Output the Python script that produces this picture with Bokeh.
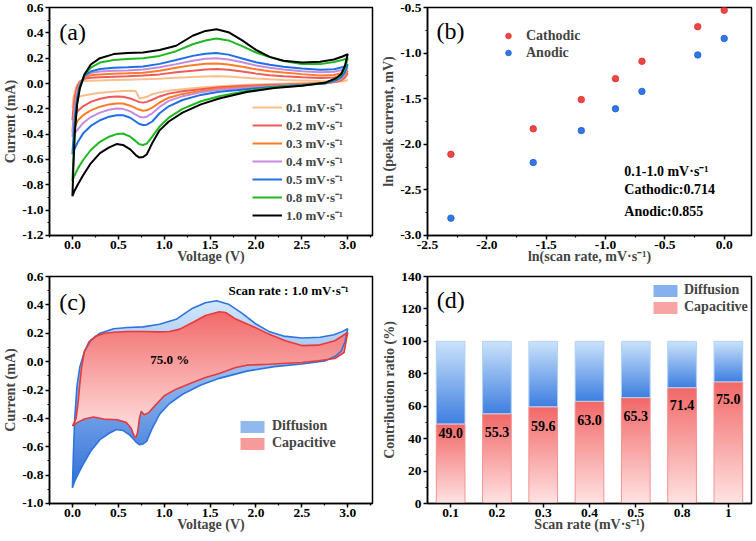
from bokeh.plotting import figure
from bokeh.models import Range1d, FactorRange, SingleIntervalTicker, NumeralTickFormatter, Legend, LegendItem
from bokeh.layouts import gridplot
from bokeh.core.properties import value
from bokeh.embed import file_html
from bokeh.resources import INLINE

FONT = "Liberation Serif"
EPS = 1e-6

# ---------------- (a) CV curves at different scan rates ----------------
SCAN_LABELS = ["0.1 mV·s⁻¹", "0.2 mV·s⁻¹", "0.3 mV·s⁻¹", "0.4 mV·s⁻¹",
               "0.5 mV·s⁻¹", "0.8 mV·s⁻¹", "1.0 mV·s⁻¹"]
SCAN_COLORS = ["#F8BF8C", "#F05A5A", "#FF7B24", "#C58BE0", "#1F6FE5", "#20B820", "#000000"]

V_UP = [0.0, 0.01, 0.025, 0.05, 0.08, 0.13, 0.2, 0.3, 0.45, 0.6, 0.77, 0.95, 1.13,
        1.31, 1.45, 1.57, 1.7, 1.85, 2.0, 2.15, 2.3, 2.5, 2.7, 2.85, 2.95, 3.0]
I_UP_01 = [-0.19, -0.12, -0.06, -0.01, 0.012, 0.02, 0.022, 0.024, 0.027, 0.03, 0.033, 0.038, 0.046,
           0.052, 0.056, 0.058, 0.055, 0.048, 0.04, 0.033, 0.028, 0.024, 0.02, 0.018, 0.02, 0.027]
I_UP_02 = [-0.29, -0.2, -0.11, -0.03, 0.015, 0.038, 0.046, 0.05, 0.054, 0.058, 0.063, 0.072, 0.088,
           0.1, 0.11, 0.114, 0.108, 0.094, 0.078, 0.066, 0.057, 0.049, 0.044, 0.047, 0.062, 0.08]
I_UP_03 = [-0.38, -0.28, -0.16, -0.06, 0.005, 0.045, 0.065, 0.072, 0.076, 0.08, 0.085, 0.101, 0.125,
           0.145, 0.155, 0.158, 0.15, 0.132, 0.112, 0.097, 0.086, 0.074, 0.064, 0.067, 0.085, 0.10]
I_UP_04 = [-0.42, -0.32, -0.2, -0.08, 0.0, 0.055, 0.082, 0.095, 0.1, 0.103, 0.11, 0.128, 0.153,
           0.18, 0.195, 0.2, 0.19, 0.168, 0.142, 0.124, 0.11, 0.097, 0.088, 0.092, 0.108, 0.127]
I_UP_05 = [-0.56, -0.44, -0.28, -0.12, -0.02, 0.06, 0.095, 0.115, 0.125, 0.128, 0.135, 0.155, 0.185,
           0.218, 0.235, 0.24, 0.228, 0.198, 0.168, 0.148, 0.132, 0.118, 0.108, 0.113, 0.13, 0.15]
I_UP_08 = [-0.77, -0.60, -0.38, -0.16, -0.03, 0.065, 0.125, 0.165, 0.185, 0.193, 0.200, 0.218, 0.255,
           0.31, 0.34, 0.355, 0.34, 0.295, 0.245, 0.208, 0.178, 0.153, 0.153, 0.17, 0.188, 0.20]
I_UP_10 = [-0.89, -0.66, -0.40, -0.17, -0.04, 0.07, 0.15, 0.20, 0.232, 0.240, 0.245, 0.264, 0.298,
           0.377, 0.415, 0.429, 0.405, 0.34, 0.265, 0.21, 0.18, 0.166, 0.172, 0.19, 0.215, 0.232]

V_DN = [3.0, 2.97, 2.93, 2.87, 2.75, 2.5, 2.2, 1.9, 1.6, 1.4, 1.2, 1.05, 0.95, 0.87,
        0.81, 0.77, 0.73, 0.69, 0.63, 0.55, 0.48, 0.4, 0.3, 0.2, 0.12, 0.06, 0.02, 0.0]
I_DN_01 = [0.027, 0.02, 0.016, 0.012, 0.008, 0.003, -0.003, -0.01, -0.022, -0.032, -0.045, -0.058, -0.07, -0.085,
           -0.105, -0.113, -0.118, -0.06, -0.057, -0.06, -0.063, -0.067, -0.073, -0.085, -0.095, -0.108, -0.14, -0.19]
I_DN_02 = [0.08, 0.045, 0.025, 0.012, 0.003, -0.004, -0.01, -0.018, -0.03, -0.045, -0.062, -0.08, -0.102, -0.128,
           -0.145, -0.151, -0.147, -0.135, -0.118, -0.104, -0.102, -0.107, -0.12, -0.145, -0.178, -0.215, -0.26, -0.29]
I_DN_03 = [0.10, 0.06, 0.033, 0.016, 0.0, -0.008, -0.016, -0.028, -0.04, -0.06, -0.082, -0.112, -0.15, -0.19,
           -0.212, -0.215, -0.208, -0.195, -0.175, -0.158, -0.158, -0.165, -0.183, -0.212, -0.248, -0.29, -0.345, -0.38]
I_DN_04 = [0.127, 0.075, 0.04, 0.02, 0.0, -0.01, -0.02, -0.035, -0.05, -0.07, -0.1, -0.137, -0.185, -0.235,
           -0.262, -0.268, -0.262, -0.245, -0.22, -0.2, -0.198, -0.207, -0.23, -0.265, -0.31, -0.36, -0.40, -0.42]
I_DN_05 = [0.15, 0.09, 0.05, 0.025, 0.0, -0.012, -0.025, -0.045, -0.065, -0.09, -0.13, -0.18, -0.235, -0.3,
           -0.325, -0.328, -0.32, -0.3, -0.27, -0.25, -0.25, -0.262, -0.29, -0.335, -0.39, -0.46, -0.52, -0.56]
I_DN_08 = [0.20, 0.12, 0.065, 0.035, 0.005, -0.015, -0.03, -0.06, -0.1, -0.14, -0.2, -0.27, -0.34, -0.42,
           -0.475, -0.485, -0.48, -0.455, -0.42, -0.395, -0.40, -0.42, -0.46, -0.525, -0.60, -0.67, -0.73, -0.77]
I_DN_10 = [0.232, 0.14, 0.075, 0.04, 0.005, -0.017, -0.035, -0.067, -0.118, -0.165, -0.23, -0.30, -0.37, -0.47,
           -0.56, -0.58, -0.585, -0.565, -0.52, -0.485, -0.478, -0.505, -0.55, -0.63, -0.72, -0.795, -0.85, -0.89]

I_UP_ALL = [I_UP_01, I_UP_02, I_UP_03, I_UP_04, I_UP_05, I_UP_08, I_UP_10]
I_DN_ALL = [I_DN_01, I_DN_02, I_DN_03, I_DN_04, I_DN_05, I_DN_08, I_DN_10]

# ---------------- (b) log-log peak current ----------------
LN_RATE = [-2.303, -1.609, -1.204, -0.916, -0.693, -0.223, 0.0]
LN_CATHODIC = [-2.11, -1.83, -1.51, -1.28, -1.09, -0.71, -0.53]
LN_ANODIC = [-2.81, -2.20, -1.85, -1.61, -1.42, -1.02, -0.84]
B_NOTES = ["0.1-1.0 mV·s⁻¹", "Cathodic:0.714", "Anodic:0.855"]

# ---------------- (c) capacitive contribution at 1.0 mV/s ----------------
CAP_V_UP = [0.0, 0.04, 0.06, 0.08, 0.1, 0.13, 0.18, 0.25, 0.35, 0.45, 0.6, 0.77, 0.95, 1.06,
            1.17, 1.31, 1.45, 1.6, 1.67, 1.78, 1.96, 2.14, 2.32, 2.5, 2.68, 2.86, 3.0]
CAP_I_UP = [-0.455, -0.40, -0.30, -0.16, -0.04, 0.07, 0.14, 0.178, 0.20, 0.207, 0.212, 0.212, 0.21, 0.212,
            0.229, 0.276, 0.325, 0.352, 0.346, 0.30, 0.25, 0.194, 0.147, 0.113, 0.116, 0.147, 0.205]
CAP_V_DN = [3.0, 2.96, 2.86, 2.68, 2.5, 2.14, 1.9, 1.78, 1.6, 1.45, 1.31, 1.13, 1.0, 0.9, 0.83,
            0.78, 0.75, 0.73, 0.71, 0.69, 0.67, 0.64, 0.59, 0.49, 0.34, 0.23, 0.13, 0.05, 0.0]
CAP_I_DN = [0.205, 0.064, 0.022, 0.006, -0.006, -0.018, -0.025, -0.041, -0.084, -0.112, -0.147, -0.194, -0.24, -0.31, -0.36,
            -0.375, -0.35, -0.40, -0.50, -0.535, -0.52, -0.47, -0.43, -0.41, -0.405, -0.39, -0.405, -0.43, -0.455]

# ---------------- (d) contribution ratios ----------------
RATES = ["0.1", "0.2", "0.3", "0.4", "0.5", "0.8", "1"]
CAPACITIVE = [49.0, 55.3, 59.6, 63.0, 65.3, 71.4, 75.0]
DIFFUSION = [51.0, 44.7, 40.4, 37.0, 34.7, 28.6, 25.0]
LABEL_Y = [43.2, 44.0, 48.1, 51.2, 53.8, 60.5, 64.2]


# ---------------- helpers ----------------
def mix(c0, c1, t):
    a = [int(c0[i:i + 2], 16) for i in (1, 3, 5)]
    b = [int(c1[i:i + 2], 16) for i in (1, 3, 5)]
    return "#%02x%02x%02x" % tuple(int(round(a[j] + (b[j] - a[j]) * t)) for j in range(3))


def clip_band(xs, ys, y0, y1):
    pts = list(zip(xs, ys))

    def half(pts, inside, yc):
        out = []
        n = len(pts)
        for i in range(n):
            cur, prev = pts[i], pts[i - 1]

            def ix(p, q):
                t = (yc - p[1]) / (q[1] - p[1])
                return (p[0] + t * (q[0] - p[0]), yc)
            if inside(cur):
                if not inside(prev):
                    out.append(ix(prev, cur))
                out.append(cur)
            elif inside(prev):
                out.append(ix(prev, cur))
        return out

    pts = half(pts, lambda p: p[1] >= y0, y0)
    if pts:
        pts = half(pts, lambda p: p[1] <= y1, y1)
    return pts


def gradient_fill(p, xs, ys, c_low, c_high, n=50):
    lo, hi = min(ys), max(ys)
    h = (hi - lo) / n
    pxs, pys, cols = [], [], []
    for k in range(n):
        pts = clip_band(xs, ys, lo + k * h - 0.004, lo + (k + 1) * h + 0.004)
        if len(pts) >= 3:
            pxs.append([q[0] for q in pts])
            pys.append([q[1] for q in pts])
            cols.append(mix(c_low, c_high, (k + 0.5) / n))
    r = p.patches(pxs, pys, fill_color=cols, line_color=None)
    return r, len(cols)


def style(p, xlabel, ylabel):
    p.xgrid.grid_line_color = None
    p.ygrid.grid_line_color = None
    p.outline_line_color = "black"
    p.outline_line_width = 1.5
    p.outline_line_alpha = 1
    p.background_fill_color = "white"
    p.border_fill_color = "white"
    for ax in (p.xaxis[0], p.yaxis[0]):
        ax.axis_line_width = 1.5
        ax.major_tick_line_width = 1.5
        ax.minor_tick_line_width = 1.2
        ax.major_tick_in = 0
        ax.major_tick_out = 4
        ax.minor_tick_in = 0
        ax.minor_tick_out = 2
        ax.major_label_text_font = FONT
        ax.major_label_text_font_style = "bold"
        ax.major_label_text_font_size = "13.5px"
        ax.major_label_text_color = "black"
        ax.axis_label_text_font = FONT
        ax.axis_label_text_font_style = "bold"
        ax.axis_label_text_font_size = "14px"
    p.yaxis[0].major_label_standoff = 2
    p.yaxis[0].axis_label_standoff = 1
    p.xaxis[0].major_label_standoff = 1
    p.xaxis[0].axis_label_standoff = -3
    p.xaxis[0].axis_label = xlabel
    p.yaxis[0].axis_label = ylabel


def make_legend(items, loc, size="14px", gw=30, gh=15, standoff=5, spacing=0):
    return Legend(items=items, location=loc, label_text_font=FONT, label_text_font_style="bold",
                  label_text_font_size=size, glyph_width=gw, glyph_height=gh, label_height=gh,
                  label_standoff=standoff, spacing=spacing, padding=0, margin=0,
                  border_line_color=None, background_fill_alpha=0)


def panel_letter(p, x, y, txt, **kw):
    p.text(x=[x], y=[y], text=[txt], text_font=value(FONT), text_font_size="24px",
           text_baseline="middle", text_align="left", text_color="black", **kw)


def note(p, xs, ys, texts, size, align="left"):
    p.text(x=xs, y=ys, text=texts, text_font=value(FONT), text_font_style="bold",
           text_font_size=size, text_baseline="middle", text_align=align, text_color="black")


common = dict(output_backend="svg", toolbar_location=None, tools="", width=378)
top_row = dict(height=270, min_border_top=7, min_border_bottom=35)
bottom_row = dict(height=271, min_border_top=6, min_border_bottom=38)

# ---------------- panel (a) ----------------
pa = figure(x_range=Range1d(-0.25, 3.27), y_range=Range1d(-1.2 - EPS, 0.6 + EPS),
            min_border_left=45, min_border_right=6, **top_row, **common)
style(pa, "Voltage (V)", "Current (mA)")
pa.xaxis[0].ticker = SingleIntervalTicker(interval=0.5, num_minor_ticks=2)
pa.yaxis[0].ticker = SingleIntervalTicker(interval=0.2, num_minor_ticks=2)
pa.xaxis[0].formatter = NumeralTickFormatter(format="0.0")
pa.yaxis[0].formatter = NumeralTickFormatter(format="0.0")
a_items = []
for lab, col, iu, idn in zip(SCAN_LABELS, SCAN_COLORS, I_UP_ALL, I_DN_ALL):
    r = pa.line(V_UP + V_DN, iu + idn, line_color=col, line_width=2)
    a_items.append(LegendItem(label=lab, renderers=[r]))
pa.add_layout(make_legend(a_items, (203, 11), size="13px", gw=30, gh=18, standoff=4, spacing=0))
panel_letter(pa, -0.143, 0.408, "(a)")

# ---------------- panel (b) ----------------
pb = figure(x_range=Range1d(-2.5 - EPS, 0.23), y_range=Range1d(-3.0 - EPS, -0.5 + EPS),
            min_border_left=49, min_border_right=5, **top_row, **common)
style(pb, "ln(scan rate, mV·s⁻¹)", "ln (peak current, mV)")
pb.xaxis[0].ticker = SingleIntervalTicker(interval=0.5, num_minor_ticks=2)
pb.yaxis[0].ticker = SingleIntervalTicker(interval=0.5, num_minor_ticks=2)
pb.xaxis[0].formatter = NumeralTickFormatter(format="0.0")
pb.yaxis[0].formatter = NumeralTickFormatter(format="0.0")
rc = pb.scatter(LN_RATE, LN_CATHODIC, size=6.5, fill_color="#F04545", line_color="#D83030", line_width=0.8)
ra = pb.scatter(LN_RATE, LN_ANODIC, size=6.5, fill_color="#3077E8", line_color="#1F5FCC", line_width=0.8)
pb.add_layout(make_legend([LegendItem(label="Cathodic", renderers=[rc]),
                           LegendItem(label="Anodic", renderers=[ra])],
                          (74, 174), size="14px", gw=14, gh=17, standoff=11, spacing=0))
note(pb, [-0.842, -0.842, -0.842], [-2.30, -2.50, -2.735], B_NOTES, "14px")
panel_letter(pb, -2.424, -0.755, "(b)")

# ---------------- panel (c) ----------------
pc = figure(x_range=Range1d(-0.25, 3.27), y_range=Range1d(-1.0 - EPS, 0.6 + EPS),
            min_border_left=45, min_border_right=6, **bottom_row, **common)
style(pc, "Voltage (V)", "Current (mA)")
pc.xaxis[0].ticker = SingleIntervalTicker(interval=0.5, num_minor_ticks=2)
pc.yaxis[0].ticker = SingleIntervalTicker(interval=0.2, num_minor_ticks=2)
pc.xaxis[0].formatter = NumeralTickFormatter(format="0.0")
pc.yaxis[0].formatter = NumeralTickFormatter(format="0.0")
outer_x = V_UP + V_DN
outer_y = I_UP_10 + I_DN_10
cap_x = CAP_V_UP + CAP_V_DN
cap_y = CAP_I_UP + CAP_I_DN
dif_r, n_dif = gradient_fill(pc, outer_x, outer_y, "#2F6FD8", "#D2E7FC")
cap_r, n_cap = gradient_fill(pc, cap_x, cap_y, "#FFE6E6", "#F26A6A")
pc.line(outer_x, outer_y, line_color="#2E74DE", line_width=1.6)
pc.line(cap_x, cap_y, line_color="#E8393B", line_width=1.6)
pc.add_layout(make_legend([LegendItem(label="Diffusion", renderers=[dif_r], index=int(n_dif * 0.6)),
                           LegendItem(label="Capacitive", renderers=[cap_r], index=int(n_cap * 0.6))],
                          (188, 52), size="14px", gw=30, gh=15, standoff=5, spacing=1))
note(pc, [1.06], [0.015], ["75.0 %"], "13px", align="center")
note(pc, [3.01], [0.50], ["Scan rate : 1.0 mV·s⁻¹"], "13px", align="right")
panel_letter(pc, -0.143, 0.417, "(c)")

# ---------------- panel (d) ----------------
pd_ = figure(x_range=FactorRange(*RATES), y_range=Range1d(0, 140 + EPS),
             min_border_left=49, min_border_right=5, **bottom_row, **common)
style(pd_, "Scan rate (mV·s⁻¹)", "Contribution ratio (%)")
pd_.yaxis[0].ticker = SingleIntervalTicker(interval=20, num_minor_ticks=2)
N = 60
bx, btop, bbot, bcol = [], [], [], []
for r, c, d in zip(RATES, CAPACITIVE, DIFFUSION):
    for k in range(N):
        lo = c * k / N
        hi = c * (k + 1) / N + (0.6 if k < N - 1 else 0)
        bx.append(r); bbot.append(lo); btop.append(hi)
        bcol.append(mix("#FFE3E3", "#F26868", (k + 0.5) / N))
    for k in range(N):
        lo = c + d * k / N
        hi = c + d * (k + 1) / N + (0.6 if k < N - 1 else 0)
        bx.append(r); bbot.append(lo); btop.append(hi)
        bcol.append(mix("#3E7EE0", "#CBE3FB", (k + 0.5) / N))
bars = pd_.vbar(x=bx, top=btop, bottom=bbot, width=0.62, fill_color=bcol, line_color=None)
pd_.vbar(x=RATES, top=CAPACITIVE, bottom=0, width=0.62, fill_color=None, line_color="#F39494", line_width=1)
pd_.vbar(x=RATES, top=[c + d for c, d in zip(CAPACITIVE, DIFFUSION)], bottom=CAPACITIVE, width=0.62,
         fill_color=None, line_color="#B4D3F5", line_width=1)
pd_.add_layout(make_legend([LegendItem(label="Diffusion", renderers=[bars], index=N + N // 2),
                            LegendItem(label="Capacitive", renderers=[bars], index=N // 2)],
                           (223, 188), size="14px", gw=30, gh=15, standoff=4, spacing=1))
note(pd_, RATES, LABEL_Y, ["%.1f" % v for v in CAPACITIVE], "14px", align="center")
panel_letter(pd_, RATES[0], 125.8, "(d)", x_offset=-14)

grid = gridplot([[pa, pb], [pc, pd_]], toolbar_location=None)
open("out.html", "w").write(file_html(grid, INLINE))
